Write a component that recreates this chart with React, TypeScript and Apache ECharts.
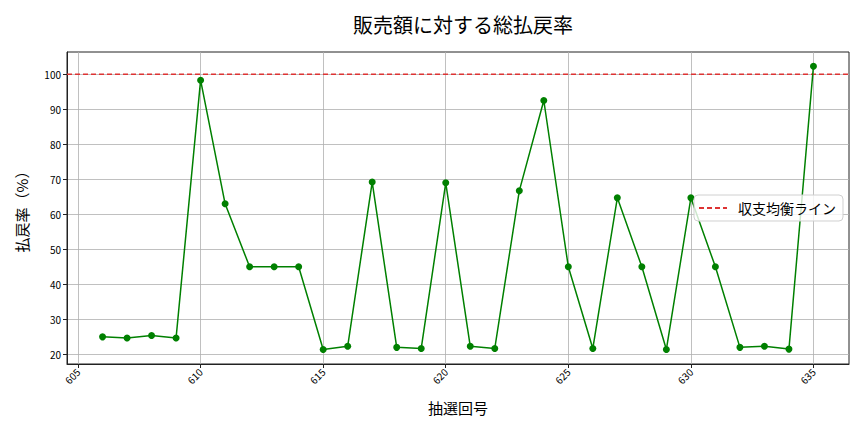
import React, { useEffect, useRef } from "react";
import * as echarts from "echarts";

const drawNumbers = [606, 607, 608, 609, 610, 611, 612, 613, 614, 615, 616, 617, 618, 619, 620, 621, 622, 623, 624, 625, 626, 627, 628, 629, 630, 631, 632, 633, 634, 635];
const payoutRates = [25.0, 24.7, 25.4, 24.7, 98.3, 63.0, 45.0, 45.0, 45.0, 21.4, 22.3, 69.2, 22.0, 21.7, 69.0, 22.3, 21.7, 66.7, 92.5, 45.0, 21.7, 64.7, 45.0, 21.4, 64.7, 45.0, 22.0, 22.3, 21.5, 102.3];
const xTicks = [605, 610, 615, 620, 625, 630, 635];
const yTicks = [20, 30, 40, 50, 60, 70, 80, 90, 100];
const breakEven = 100;
const xMin = 604.55;
const xMax = 636.45;
const yMin = 17.25;
const yMax = 106.35;

const FONT = "'Noto Sans CJK JP', 'Noto Sans', sans-serif";
const DASH_ICON = "path://M0,0h5v2h-5zM8,0h5v2h-5zM16,0h5v2h-5zM24,0h4v2h-4z";

export default function App() {
  const ref = useRef<HTMLDivElement>(null);
  useEffect(() => {
    if (!ref.current) return;
    const chart = echarts.init(ref.current, undefined, { renderer: "svg" });
    chart.setOption({
      animation: false,
      backgroundColor: "#ffffff",
      textStyle: { fontFamily: FONT },
      title: {
        text: "販売額に対する総払戻率",
        left: 458,
        textAlign: "center",
        top: 9,
        textStyle: { fontFamily: FONT, fontSize: 20, fontWeight: "normal", color: "#000" },
      },
      legend: {
        data: [{ name: "収支均衡ライン", icon: DASH_ICON }],
        left: 694,
        top: 195,
        itemWidth: 28,
        itemHeight: 2,
        padding: [6, 7, 6, 5],
        backgroundColor: "rgba(255,255,255,0.8)",
        borderColor: "#d0d0d0",
        borderWidth: 1,
        borderRadius: 4,
        textStyle: { fontFamily: FONT, fontSize: 14, color: "#000", padding: [0, 0, 0, 6] },
      },
      grid: {
        left: 67,
        right: 15,
        top: 52,
        bottom: 68,
        show: true,
        borderColor: "#222",
        borderWidth: 1,
        containLabel: false,
      },
      xAxis: {
        type: "value",
        min: xMin,
        max: xMax,
        name: "抽選回号",
        nameLocation: "middle",
        nameGap: 36,
        nameTextStyle: { fontFamily: FONT, fontSize: 15, color: "#000" },
        axisLine: { show: true, onZero: false, lineStyle: { color: "#222", width: 1 } },
        axisTick: { show: true, length: 4, customValues: xTicks, lineStyle: { color: "#222" } },
        axisLabel: {
          customValues: xTicks,
          rotate: 45,
          fontSize: 10,
          color: "#000",
          fontFamily: FONT,
          margin: 6,
          showMinLabel: true,
          showMaxLabel: true,
        },
        splitLine: { show: true, lineStyle: { color: "#b0b0b0", width: 0.8 } },
      },
      yAxis: {
        type: "value",
        min: yMin,
        max: yMax,
        name: "払戻率（%）",
        nameLocation: "middle",
        nameGap: 38,
        nameRotate: 90,
        nameTextStyle: { fontFamily: FONT, fontSize: 15, color: "#000" },
        axisLine: { show: true, lineStyle: { color: "#222", width: 1 } },
        axisTick: { show: true, length: 4, customValues: yTicks, lineStyle: { color: "#222" } },
        axisLabel: {
          customValues: yTicks,
          fontSize: 10,
          color: "#000",
          fontFamily: FONT,
          margin: 6,
          showMinLabel: true,
          showMaxLabel: true,
        },
        splitLine: { show: true, lineStyle: { color: "#b0b0b0", width: 0.8 } },
      },
      series: [
        {
          name: "総払戻率",
          type: "line",
          data: drawNumbers.map((d, i) => [d, payoutRates[i]]),
          symbol: "circle",
          symbolSize: 7,
          itemStyle: { color: "#008000" },
          lineStyle: { color: "#008000", width: 1.5 },
          z: 3,
        },
        {
          name: "収支均衡ライン",
          type: "line",
          data: [
            [xMin, breakEven],
            [xMax, breakEven],
          ],
          symbol: "none",
          itemStyle: { color: "#dd3333" },
          lineStyle: { color: "#dd3333", width: 1.5, type: [5, 3] },
          z: 2,
        },
      ],
    });
    return () => chart.dispose();
  }, []);
  return (
    <div
      ref={ref}
      style={{ position: "absolute", left: 0, top: 0, width: 864, height: 432 }}
    />
  );
}
